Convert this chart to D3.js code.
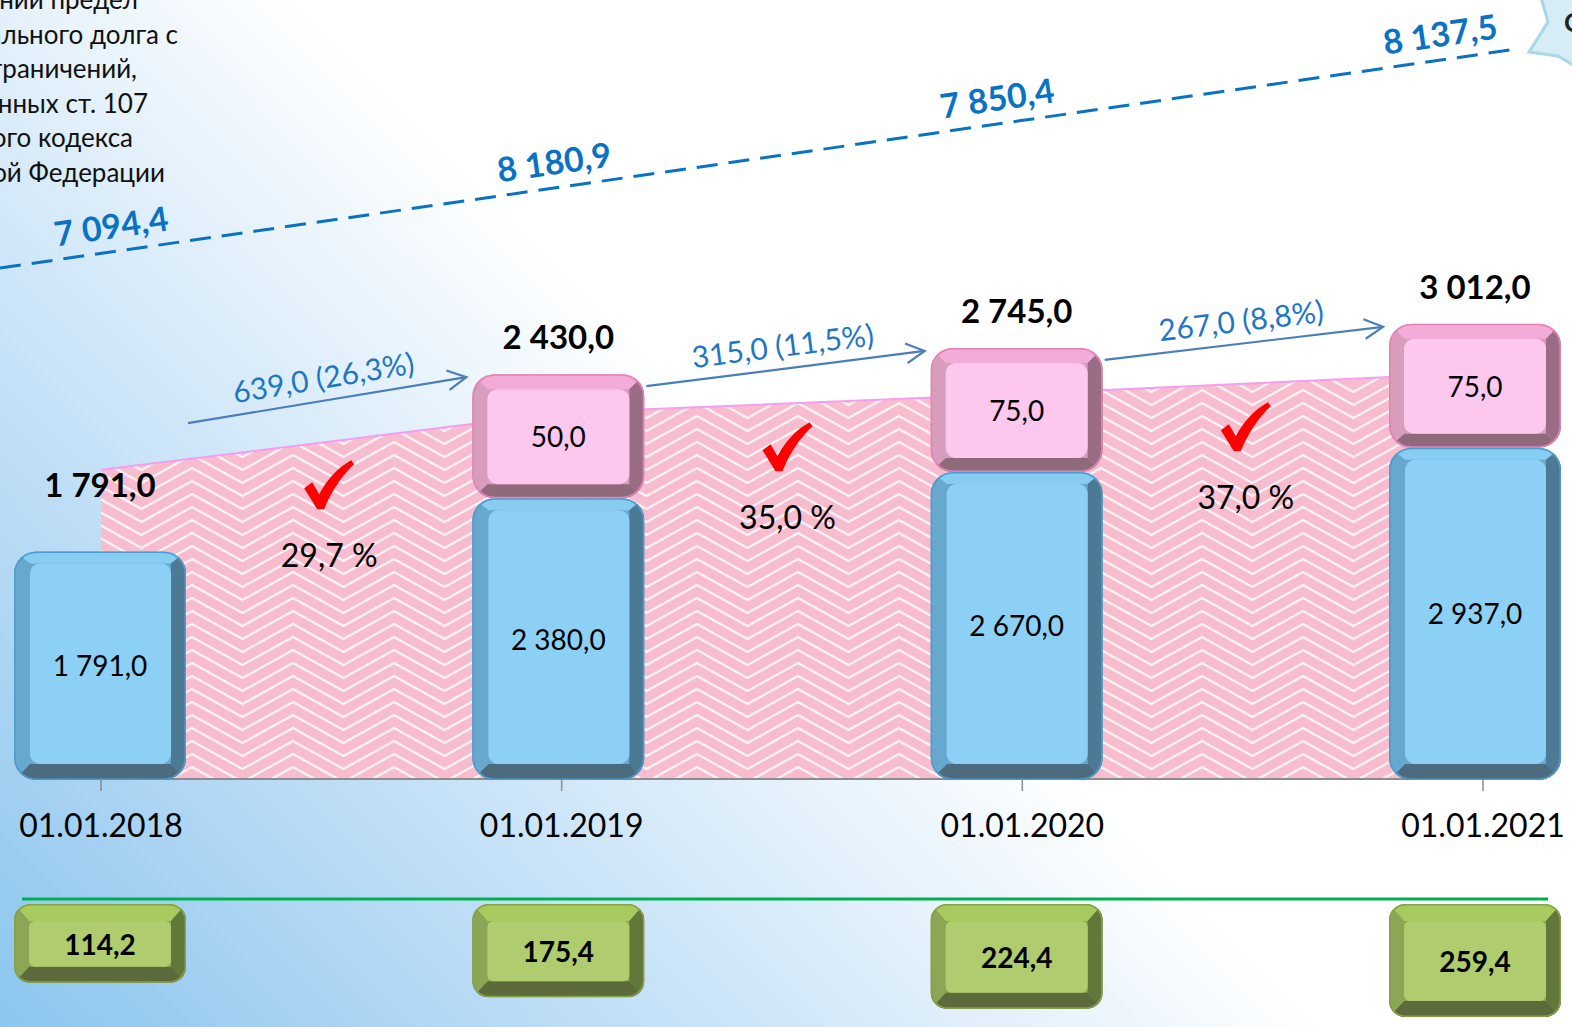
<!DOCTYPE html>
<html>
<head>
<meta charset="utf-8">
<script src="https://cdn.jsdelivr.net/npm/d3@7"></script>
<style>
  html, body { margin: 0; padding: 0; overflow: hidden; background: #fff; }
  svg { display: block; }
  text { font-family: Lato, "Open Sans", sans-serif; }
</style>
</head>
<body>
<svg id="chart" width="1572" height="1027"></svg>
<script>
// ---- data ----
const dates = ["01.01.2018", "01.01.2019", "01.01.2020", "01.01.2021"];
const baseDebt = [1791.0, 2380.0, 2670.0, 2937.0];     // blue columns
const extraDebt = [null, 50.0, 75.0, 75.0];            // pink caps
const totalDebt = [1791.0, 2430.0, 2745.0, 3012.0];    // stack totals
const growthAbs = [639.0, 315.0, 267.0];               // year-on-year increase
const growthPct = [26.3, 11.5, 8.8];
const debtShare = [29.7, 35.0, 37.0];                  // share, %
const shareBand = [2693, 3324, 3534, 3766];            // hatched band level
const debtLimit = [7094.4, 8180.9, 7850.4, 8137.5];    // upper limit (dashed)
const serviceCost = [114.2, 175.4, 224.4, 259.4];      // green blocks
const noteLines = ["Верхний предел", "муниципального долга с", "учетом ограничений,",
                   "установленных ст. 107", "Бюджетного кодекса", "Российской Федерации"];

// ---- formatting ----
const ru = d3.formatLocale({ decimal: ",", thousands: "\u00a0", grouping: [3], currency: ["", ""] });
const f1 = ru.format(",.1f");

// ---- layout ----
const W = 1572, H = 1027;
const base = 779;
const barW = 172;
const capH = 124;

const svg = d3.select("#chart");
const defs = svg.append("defs");

const x = d3.scalePoint().domain(dates).range([101, 1483]);      // ticks, axis labels, band
const xb = d3.scalePoint().domain(dates).range([100, 1475]);     // columns and blocks
const y = d3.scaleLinear().domain([-725, 3012]).range([base, 441]);
const xLimit = d3.scalePoint().domain(dates).range([111, 1440]);
const trendY = d3.scaleLinear().domain([0, 1517]).range([268, 49]);
const gH = d3.scaleLinear().domain([-220, 259.4]).range([0, 113]);

// background
const bg = defs.append("linearGradient").attr("id", "bg")
  .attr("gradientUnits", "userSpaceOnUse")
  .attr("x1", 0).attr("y1", H).attr("x2", 665).attr("y2", H - 665);
bg.append("stop").attr("offset", 0).attr("stop-color", "#8cc5ee");
bg.append("stop").attr("offset", 0.5).attr("stop-color", "#c5e1f7");
bg.append("stop").attr("offset", 1).attr("stop-color", "#ffffff");
svg.append("rect").attr("width", W).attr("height", H).attr("fill", "url(#bg)");

// zigzag hatch for the band
const P = 101, S = 13, A = 28;
const pat = defs.append("pattern").attr("id", "zig")
  .attr("patternUnits", "userSpaceOnUse")
  .attr("width", P).attr("height", S)
  .attr("x", 40.5).attr("y", 0);
pat.append("rect").attr("width", P).attr("height", S).attr("fill", "#f7bccd");
const sl = A / (P / 2);
for (let k = -4; k <= 4; k++) {
  pat.append("polyline")
    .attr("points", `-2,${A + k * S + 2 * sl} ${P / 2},${k * S} ${P + 2},${A + k * S + 2 * sl}`)
    .attr("fill", "none").attr("stroke", "#ffffff").attr("stroke-width", 2.2).attr("opacity", 0.85);
}

// ---- note text (upper left) ----
const noteEnds = [138, 178, 137, 148, 133, 165];
svg.append("g").selectAll("text").data(noteLines).join("text")
  .attr("x", (d, i) => noteEnds[i])
  .attr("y", (d, i) => 9 + i * 34.6)
  .attr("text-anchor", "end")
  .attr("font-size", 26)
  .attr("fill", "#111")
  .text(d => d);

// ---- callout star (upper right) ----
svg.append("polygon")
  .attr("points", "1541,-3 1548,22 1529,52 1558,56 1578,68 1578,-3")
  .attr("fill", "#d6edf6").attr("stroke", "#a9d6e8").attr("stroke-width", 3);
svg.append("text").attr("x", 1564).attr("y", 32).attr("font-size", 26)
  .attr("font-weight", 700).attr("fill", "#222").text("С");

// ---- dashed upper-limit trend ----
svg.append("line")
  .attr("x1", 0).attr("y1", trendY(0)).attr("x2", 1517).attr("y2", trendY(1517))
  .attr("stroke", "#0a72c2").attr("stroke-width", 3).attr("stroke-dasharray", "21 11");
const trendAngle = Math.atan2(trendY(1000) - trendY(0), 1000) * 180 / Math.PI;
svg.append("g").selectAll("text").data(debtLimit).join("text")
  .attr("transform", (d, i) => {
    const lx = xLimit(dates[i]);
    return `translate(${lx},${trendY(lx) - 27}) rotate(${trendAngle})`;
  })
  .attr("text-anchor", "middle").attr("dominant-baseline", "central")
  .attr("font-size", 34).attr("font-weight", 700).attr("fill", "#0a72c2")
  .text(d => f1(d));

// ---- hatched band ----
const band = d3.area()
  .x((d, i) => x(dates[i]))
  .y0(base)
  .y1(d => y(d));
svg.append("path").datum(shareBand).attr("d", band).attr("fill", "url(#zig)");
svg.append("path").datum(shareBand)
  .attr("d", d3.line().x((d, i) => x(dates[i])).y(d => y(d)))
  .attr("fill", "none").attr("stroke", "#f59ef0").attr("stroke-width", 2);

// axis line and ticks
svg.append("line").attr("x1", x(dates[0])).attr("x2", x(dates[3]))
  .attr("y1", base).attr("y2", base).attr("stroke", "#8c8c8c").attr("stroke-width", 2);
svg.append("g").selectAll("line").data(dates).join("line")
  .attr("x1", d => x(d)).attr("x2", d => x(d))
  .attr("y1", base).attr("y2", base + 12)
  .attr("stroke", "#8c8c8c").attr("stroke-width", 1.5);

// ---- bevelled block ----
let clipN = 0;
function bevelBox(parent, bx, by, w, h, c, ins, r, ri) {
  const id = "bclip" + (clipN++);
  defs.append("clipPath").attr("id", id).append("rect")
    .attr("x", bx).attr("y", by).attr("width", w).attr("height", h).attr("rx", r);
  const g = parent.append("g");
  const gc = g.append("g").attr("clip-path", `url(#${id})`);
  const x0 = bx, x1 = bx + w, y0 = by, y1 = by + h;
  const ix0 = bx + ins.l, ix1 = x1 - ins.r, iy0 = by + ins.t, iy1 = y1 - ins.b;
  gc.append("rect").attr("x", x0).attr("y", y0).attr("width", w).attr("height", h).attr("fill", c.left);
  const poly = (pts, fill) => gc.append("polygon").attr("points", pts.map(p => p.join(",")).join(" ")).attr("fill", fill);
  poly([[x0, y0], [x1, y0], [ix1, iy0], [ix0, iy0]], c.top);
  poly([[x1, y0], [x1, y1], [ix1, iy1], [ix1, iy0]], c.right);
  poly([[x0, y1], [x1, y1], [ix1, iy1], [ix0, iy1]], c.bottom);
  poly([[x0, y0], [x0, y1], [ix0, iy1], [ix0, iy0]], c.left);
  gc.append("rect").attr("x", ix0).attr("y", iy0).attr("width", ix1 - ix0).attr("height", iy1 - iy0)
    .attr("rx", ri).attr("fill", c.face);
  g.append("rect").attr("x", x0 + 0.75).attr("y", y0 + 0.75).attr("width", w - 1.5).attr("height", h - 1.5)
    .attr("rx", r).attr("fill", "none").attr("stroke", c.edge).attr("stroke-width", 1.5);
  return g;
}

const blueC = { top: "#86cdf1", left: "#66a8ce", right: "#4c7993", bottom: "#4c6b7f", face: "#8cd0f5", edge: "#4b9ccf" };
const pinkC = { top: "#f3acd8", left: "#d89cbd", right: "#9b6d84", bottom: "#8f6a7b", face: "#fec7ee", edge: "#e680b8" };
const greenC = { top: "#a7cb5e", left: "#8ba654", right: "#62773a", bottom: "#5d6b3c", face: "#afcc6e", edge: "#86a148" };

const bars = svg.append("g");
const labels = svg.append("g");
const stackTop = [];
dates.forEach((d, i) => {
  const cx = xb(d);
  const top = y(baseDebt[i]);
  bevelBox(bars, cx - barW / 2, top, barW, base + 1 - top, blueC, { l: 16, r: 15, t: 12, b: 16 }, 22, 10);
  labels.append("text").attr("x", cx).attr("y", (top + base) / 2)
    .attr("text-anchor", "middle").attr("dominant-baseline", "central")
    .attr("font-size", 28).attr("fill", "#000").text(f1(baseDebt[i]));
  let st = top;
  if (extraDebt[i] != null) {
    st = top - capH;
    bevelBox(bars, cx - barW / 2, st, barW, capH, pinkC, { l: 15, r: 15, t: 15, b: 14 }, 22, 10);
    labels.append("text").attr("x", cx).attr("y", st + capH / 2)
      .attr("text-anchor", "middle").attr("dominant-baseline", "central")
      .attr("font-size", 28).attr("fill", "#000").text(f1(extraDebt[i]));
  }
  stackTop.push(st);
  const gap = extraDebt[i] != null ? 38 : 67;
  labels.append("text").attr("x", cx).attr("y", st - gap)
    .attr("text-anchor", "middle").attr("dominant-baseline", "central")
    .attr("font-size", 33).attr("font-weight", 700).attr("fill", "#000").text(f1(totalDebt[i]));
});

// ---- growth arrows ----
const arrows = svg.append("g");
growthAbs.forEach((v, i) => {
  const xa = xb(dates[i]) + barW / 2 + 2;
  const xc = xb(dates[i + 1]) - barW / 2 - 6;
  const yc = stackTop[i + 1] + 3;
  const ya = Math.min(stackTop[i] + 12, yc + 46);
  const th = Math.atan2(yc - ya, xc - xa);
  arrows.append("line").attr("x1", xa).attr("y1", ya).attr("x2", xc).attr("y2", yc)
    .attr("stroke", "#4a7ebb").attr("stroke-width", 2.2);
  const hl = 21, ha = 28 * Math.PI / 180;
  arrows.append("polyline")
    .attr("points", `${xc - hl * Math.cos(th - ha)},${yc - hl * Math.sin(th - ha)} ${xc},${yc} ${xc - hl * Math.cos(th + ha)},${yc - hl * Math.sin(th + ha)}`)
    .attr("fill", "none").attr("stroke", "#4a7ebb").attr("stroke-width", 2.2).attr("stroke-linejoin", "miter");
  const mx = (xa + xc) / 2, my = (ya + yc) / 2;
  const lx = mx + 24 * Math.sin(th), ly = my - 24 * Math.cos(th);
  arrows.append("text")
    .attr("transform", `translate(${lx},${ly}) rotate(${th * 180 / Math.PI})`)
    .attr("text-anchor", "middle").attr("dominant-baseline", "central")
    .attr("font-size", 30).attr("fill", "#1f77c4")
    .text(`${f1(v)} (${f1(growthPct[i])}%)`);
});

// ---- share marks ----
const checkPath = "M0,27 L8,21 L15,33 C23,18 33,7 47,-1 L50,3 C38,14 27,30 20,48 L13,48 Z";
const marks = svg.append("g");
debtShare.forEach((v, i) => {
  const mx = (xb(dates[i]) + xb(dates[i + 1])) / 2;
  const bandTop = (y(shareBand[i]) + y(shareBand[i + 1])) / 2;
  marks.append("path").attr("d", checkPath)
    .attr("transform", `translate(${mx - 25},${bandTop + 20})`).attr("fill", "#ff0000");
  marks.append("text").attr("x", mx).attr("y", bandTop + 113)
    .attr("text-anchor", "middle").attr("dominant-baseline", "central")
    .attr("font-size", 32).attr("fill", "#000").text(`${f1(v)} %`);
});

// ---- category labels ----
svg.append("g").selectAll("text").data(dates).join("text")
  .attr("x", d => x(d)).attr("y", 824)
  .attr("text-anchor", "middle").attr("dominant-baseline", "central")
  .attr("font-size", 32).attr("fill", "#000").text(d => d);

// ---- separator and service-cost blocks ----
svg.append("line").attr("x1", 22).attr("x2", 1548).attr("y1", 899).attr("y2", 899)
  .attr("stroke", "#00b050").attr("stroke-width", 3);
const gTop = 904;
const greens = svg.append("g");
serviceCost.forEach((v, i) => {
  const cx = xb(dates[i]);
  const h = gH(v);
  bevelBox(greens, cx - barW / 2, gTop, barW, h, greenC, { l: 15, r: 15, t: 17, b: 16 }, 16, 6);
  greens.append("text").attr("x", cx).attr("y", gTop + 17 + (h - 33) / 2)
    .attr("text-anchor", "middle").attr("dominant-baseline", "central")
    .attr("font-size", 28).attr("font-weight", 700).attr("fill", "#000").text(f1(v));
});
</script>
</body>
</html>
